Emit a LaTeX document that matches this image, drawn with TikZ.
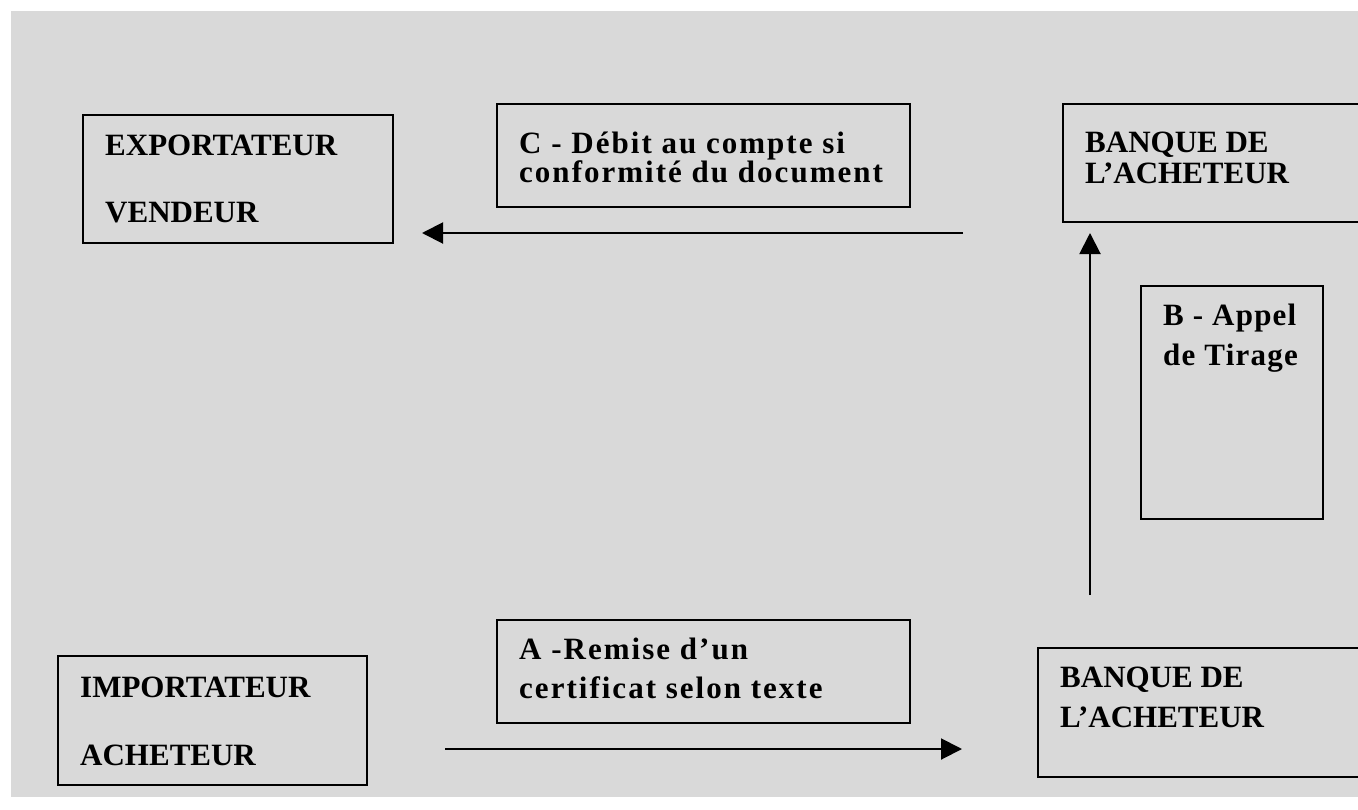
\documentclass[tikz,border=0pt]{standalone}
\usepackage{fontspec}
\setmainfont{Liberation Serif}
\usetikzlibrary{arrows.meta}
\definecolor{bg}{RGB}{217,217,217}
\tikzset{
  boxstyle/.style={draw=black, line width=2pt, inner sep=0pt},
  lbl/.style={anchor=base west, inner sep=0pt, font=\bfseries\fontsize{31}{31}\selectfont},
  slbl/.style={anchor=base west, inner sep=0pt, font=\bfseries\fontsize{31}{31}\selectfont\addfontfeature{LetterSpace=6.5}},
  blbl/.style={anchor=base west, inner sep=0pt, font=\bfseries\fontsize{31}{31}\selectfont\addfontfeature{LetterSpace=4}},
  arr/.style={line width=2pt, -{Triangle[length=21pt,width=21pt]}}
}
\begin{document}
\begin{tikzpicture}[x=1pt,y=-1pt]
\clip (0,0) rectangle (1358,809);
\fill[white] (0,0) rectangle (1358,809);
\fill[bg] (11,11) rectangle (1358,797);
% boxes
\draw[boxstyle] (83,115) rectangle (393,243);
\draw[boxstyle] (497,104) rectangle (910,207);
\draw[boxstyle] (1063,104) rectangle (1380,222);
\draw[boxstyle] (1141,286) rectangle (1323,519);
\draw[boxstyle] (58,656) rectangle (367,785);
\draw[boxstyle] (497,620) rectangle (910,723);
\draw[boxstyle] (1038,648) rectangle (1380,777);
% texts
\node[lbl] (expo1) at (105,155) {EXPORTATEUR};
\node[lbl] (expo2) at (105,222) {VENDEUR};
\node[slbl] (c1) at (519,153) {C - Débit au compte si};
\node[slbl] (c2) at (519,182) {conformité du document};
\node[lbl] (bk1a) at (1085,152) {BANQUE DE};
\node[lbl] (bk1b) at (1085,183) {L’ACHETEUR};
\node[blbl] (b1) at (1163,325) {B - Appel};
\node[blbl] (b2) at (1163,365) {de Tirage};
\node[lbl] (impo1) at (80,697) {IMPORTATEUR};
\node[lbl] (impo2) at (80,765) {ACHETEUR};
\node[slbl] (a1) at (519,659) {A -Remise d’un};
\node[slbl] (a2) at (519,698) {certificat selon texte};
\node[lbl] (bk2a) at (1060,687) {BANQUE DE};
\node[lbl] (bk2b) at (1060,727) {L’ACHETEUR};
% connectors
\coordinate (cS) at (963,233);
\coordinate (cE) at (422,233);
\coordinate (bS) at (1090,595);
\coordinate (bE) at (1090,233);
\coordinate (aS) at (445,749);
\coordinate (aE) at (962,749);
\draw[arr] (cS) -- (cE);
\draw[arr] (bS) -- (bE);
\draw[arr] (aS) -- (aE);
\end{tikzpicture}
\end{document}
